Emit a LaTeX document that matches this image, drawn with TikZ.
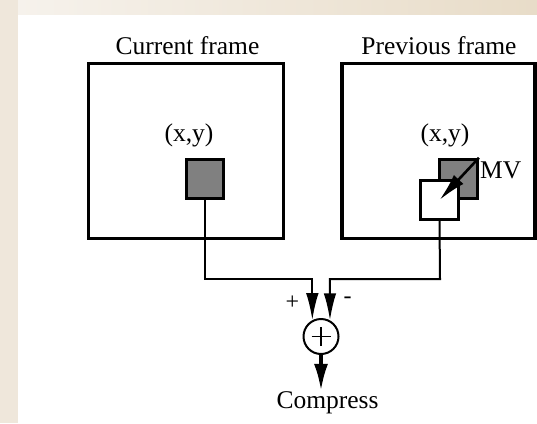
\documentclass[tikz,border=0pt]{standalone}
\usepackage{fontspec}
\setmainfont{Liberation Serif}
\usetikzlibrary{arrows.meta}
\definecolor{bgbeige}{HTML}{EFE7DB}
\definecolor{bglight}{HTML}{F6F2EC}
\definecolor{bgtan}{HTML}{E8DCC8}
\definecolor{blockgray}{HTML}{808080}
\begin{document}
\begin{tikzpicture}[x=1pt,y=-1pt,
  framebox/.style={draw,line width=3.6pt,inner sep=0pt,minimum height=175pt},
  block/.style={draw,line width=3.3pt,inner sep=0pt,minimum width=37.5pt,minimum height=39pt},
  lbl/.style={inner sep=0pt,font=\fontsize{25.5}{30}\selectfont},
  small/.style={inner sep=0pt,font=\fontsize{24}{27}\selectfont},
  conn/.style={line width=2pt,-{Latex[length=27pt,width=12.5pt]}},
  outconn/.style={line width=3.5pt,-{Latex[length=27pt,width=14pt]}},
  mvconn/.style={line width=2.6pt,-{Latex[length=28pt,width=13pt]}}]
\useasboundingbox (0,0) rectangle (537,423);
\fill[bgbeige] (0,0) rectangle (537,423);
\shade[left color=bglight,right color=bgtan] (18,0) rectangle (537,15);
\fill[white] (18,15) rectangle (537,423);
% frames
\node[framebox,minimum width=195pt] (cur) at (186,151) {};
\node[framebox,minimum width=193pt] (prev) at (438.5,151) {};
\node[lbl,anchor=base] (tcur) at (187.5,54) {Current frame};
\node[lbl,anchor=base] (tprev) at (439,54) {Previous frame};
\node[lbl,anchor=base] (xyc) at (189,141) {(x,y)};
\node[lbl,anchor=base] (xyp) at (445,141) {(x,y)};
% blocks
\node[block,fill=blockgray] (gl) at (205,179) {};
\node[block,fill=blockgray] (gr) at (458.5,179) {};
\node[block,fill=white] (wh) at (439.5,200) {};
\draw[mvconn] (gr.north east) -- (wh.center);
\node[lbl,anchor=base west] (mv) at (480,178) {MV};
% summer
\node[circle,draw,line width=2pt,minimum size=35pt,inner sep=0pt] (sum) at (321,336.5) {};
\draw[line width=1.6pt] ([xshift=-9.5pt]sum.center) -- ([xshift=9.5pt]sum.center);
\draw[line width=1.6pt] ([yshift=-9.5pt]sum.center) -- ([yshift=9.5pt]sum.center);
\coordinate (j1) at (205,279);
\coordinate (j2) at (440,279);
\draw[conn] (gl.south) -- (j1) -| (sum.118);
\draw[conn] (wh.south) -- (j2) -| (sum.61);
\node[small] (plus) at (292.5,302.5) {+};
\node[small] (minus) at (347.5,300) {-};
\node[lbl,anchor=base] (comp) at (327.5,408) {Compress};
\draw[outconn] (sum.south) -- (sum.south |- comp.north);
\end{tikzpicture}
\end{document}
